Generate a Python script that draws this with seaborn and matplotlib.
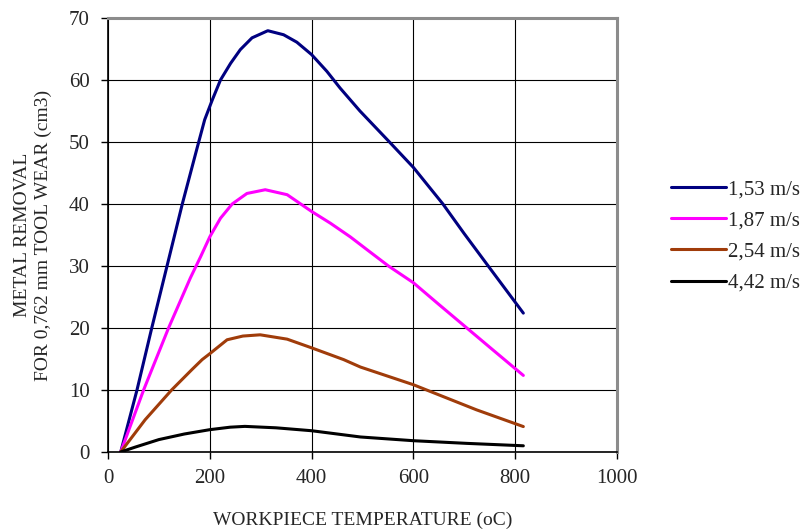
import numpy as np
import pandas as pd
import matplotlib
matplotlib.use('Agg')
import matplotlib.pyplot as plt
import seaborn as sns

# values
x_153 = [25, 57, 86, 116, 146, 175, 190, 205, 221, 241, 260, 283, 314, 345, 371, 400, 430, 456, 495, 553, 600, 658, 700, 747, 816]
y_153 = [0, 10, 20, 30, 40, 49, 53.6, 56.8, 60, 62.7, 64.9, 66.8, 67.95, 67.3, 66.1, 64.1, 61.4, 58.7, 55, 50, 45.9, 40, 35.2, 30, 22.4]

x_187 = [25, 70, 119, 162, 182, 200, 221, 244, 273, 309, 352, 400, 437, 476, 511, 551, 600, 650, 705, 760, 816]
y_187 = [0, 10, 20, 28.1, 31.5, 34.7, 37.7, 40, 41.7, 42.3, 41.5, 38.8, 36.9, 34.7, 32.5, 30, 27.3, 23.8, 20, 16.2, 12.35]

x_254 = [25, 73, 125, 165, 185, 200, 234, 265, 299, 352, 400, 463, 496, 600, 626, 724, 816]
y_254 = [0, 5.2, 10, 13.3, 14.9, 15.85, 18.1, 18.7, 18.9, 18.2, 16.8, 14.9, 13.7, 10.85, 10, 6.8, 4.1]

x_442 = [25, 54, 100, 150, 200, 240, 269, 330, 400, 496, 600, 705, 816]
y_442 = [0, 0.8, 2.0, 2.9, 3.6, 4.0, 4.13, 3.9, 3.43, 2.42, 1.82, 1.39, 1.0]

series_names = ['1,53 m/s', '1,87 m/s', '2,54 m/s', '4,42 m/s']
colors = ['#000080', '#FF00FF', '#A03C0A', '#000000']

frames = []
for name, xs, ys in zip(series_names,
                        [x_153, x_187, x_254, x_442],
                        [y_153, y_187, y_254, y_442]):
    frames.append(pd.DataFrame({'temp': xs, 'removal': ys, 'speed': name}))
df = pd.concat(frames, ignore_index=True)

sns.set_style('white')
plt.rcParams['font.family'] = ['Liberation Serif', 'DejaVu Serif']

fig = plt.figure(figsize=(8.04, 5.31), dpi=100)
ax = fig.add_axes([0.1343, 0.1488, 0.6331, 0.8173])

sns.lineplot(data=df, x='temp', y='removal', hue='speed', hue_order=series_names,
             palette=colors, sort=False, linewidth=2.2, ax=ax, legend=False)

ax.set_xlim(0, 1000)
ax.set_ylim(0, 70)
ax.set_xticks(np.arange(0, 1001, 200))
ax.set_yticks(np.arange(0, 71, 10))
ax.grid(True, color='black', linewidth=0.8)
ax.set_axisbelow(True)

for s in ['left', 'bottom']:
    ax.spines[s].set_color('black')
    ax.spines[s].set_linewidth(1.2)
for s in ['top', 'right']:
    ax.spines[s].set_color('#8c8c8c')
    ax.spines[s].set_linewidth(2.2)

ax.tick_params(axis='both', direction='out', length=5, width=1, color='black',
               labelsize=15, bottom=True, left=True)
ax.tick_params(axis='x', pad=7)
ax.tick_params(axis='y', pad=8)

ax.set_xlabel('WORKPIECE TEMPERATURE (oC)', fontsize=14, labelpad=17)
ax.set_ylabel('METAL REMOVAL\nFOR 0,762 mm TOOL WEAR (cm3)', fontsize=14,
              labelpad=12, linespacing=1.3)

handles = [plt.Line2D([], [], color=c, linewidth=2.2) for c in colors]
fig.legend(handles, series_names, loc='center left', bbox_to_anchor=(0.8236, 0.555),
           borderaxespad=0, frameon=False, fontsize=15, handlelength=2.65,
           handletextpad=0.1, labelspacing=0.56)

fig.savefig('out.png', dpi=100)
